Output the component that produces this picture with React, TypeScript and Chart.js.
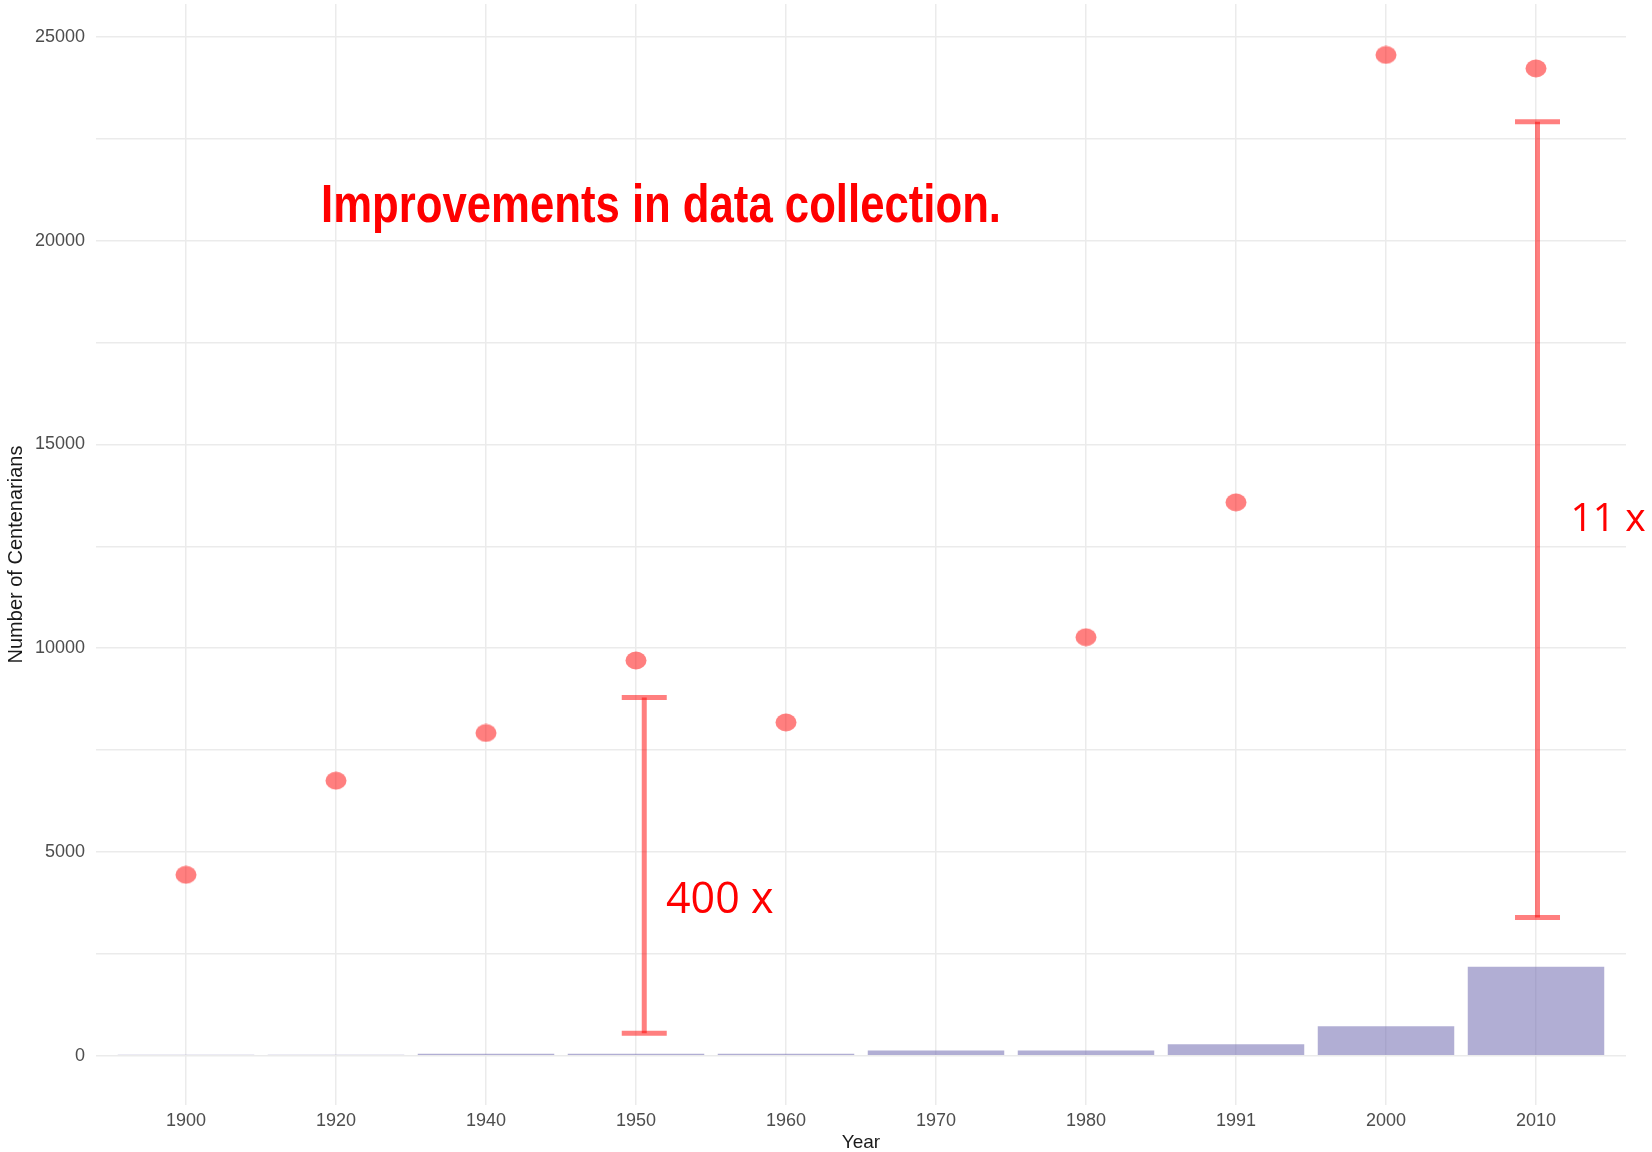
import React, { useEffect, useRef } from 'react';
import { Chart, registerables } from 'chart.js';

Chart.register(...registerables);

// ---- data ----
const years = ['1900', '1920', '1940', '1950', '1960', '1970', '1980', '1991', '2000', '2010'];
const barValues = [25, 25, 50, 45, 45, 130, 130, 280, 720, 2180];
const pointValues: (number | null)[] = [4440, 6750, 7920, 9700, 8180, null, 10270, 13580, 24560, 24230];
const yTickValues = [0, 2500, 5000, 7500, 10000, 12500, 15000, 17500, 20000, 22500, 25000];
const yMin = -1210;
const yMax = 25810;
const xMin = -0.6;
const xMax = 9.6;

// annotation values (in data units)
const errorBarX = [3.055, 9.01];
const errorBarLow = [550, 3390];
const errorBarHigh = [8790, 22920];
const errorCapHalf = 0.15;
const errorLabels = ['400 x', '11 x'];
const errorLabelX = [3.2, 9.23];
const errorLabelY = [3500, 12880];
const errorLabelSize = [43, 39];
const headline = 'Improvements in data collection.';
const headlineX = 0.9;
const headlineY = 20460;

function makeEllipse(): HTMLCanvasElement {
  const c = document.createElement('canvas');
  c.width = 22;
  c.height = 19;
  const g = c.getContext('2d')!;
  g.fillStyle = 'rgba(255,0,0,0.5)';
  g.beginPath();
  g.ellipse(11, 9.5, 10.5, 9, 0, 0, Math.PI * 2);
  g.fill();
  return c;
}

const annotationPlugin = {
  id: 'annot',
  afterDatasetsDraw(chart: any) {
    const ctx = chart.ctx as CanvasRenderingContext2D;
    const xs = chart.scales.x;
    const ys = chart.scales.y;
    ctx.save();
    ctx.strokeStyle = 'rgba(255,0,0,0.5)';
    ctx.lineWidth = 5;
    ctx.lineCap = 'butt';
    for (let i = 0; i < errorBarX.length; i++) {
      const x = xs.getPixelForValue(errorBarX[i]);
      const xl = xs.getPixelForValue(errorBarX[i] - errorCapHalf);
      const xr = xs.getPixelForValue(errorBarX[i] + errorCapHalf);
      const yh = ys.getPixelForValue(errorBarHigh[i]);
      const yl = ys.getPixelForValue(errorBarLow[i]);
      ctx.beginPath();
      ctx.moveTo(x, yh);
      ctx.lineTo(x, yl);
      ctx.stroke();
      ctx.beginPath();
      ctx.moveTo(xl, yh);
      ctx.lineTo(xr, yh);
      ctx.stroke();
      ctx.beginPath();
      ctx.moveTo(xl, yl);
      ctx.lineTo(xr, yl);
      ctx.stroke();
    }
    ctx.fillStyle = '#FF0000';
    ctx.textBaseline = 'alphabetic';
    ctx.textAlign = 'left';
    for (let i = 0; i < errorLabels.length; i++) {
      ctx.font = `${errorLabelSize[i]}px "Open Sans", "Noto Sans", sans-serif`;
      ctx.fillText(errorLabels[i], xs.getPixelForValue(errorLabelX[i]), ys.getPixelForValue(errorLabelY[i]));
    }
    // headline
    ctx.font = 'bold 54px "Liberation Sans Narrow", "Liberation Sans", Arial, sans-serif';
    const w = ctx.measureText(headline).width;
    const target = 680;
    ctx.translate(xs.getPixelForValue(headlineX), ys.getPixelForValue(headlineY));
    ctx.scale(target / w, 1);
    ctx.fillText(headline, 0, 0);
    ctx.restore();
  },
};

const zeroPad = (s: any) => {
  s.paddingTop = 0;
  s.paddingBottom = 0;
  s.paddingLeft = 0;
  s.paddingRight = 0;
};

export default function App() {
  const ref = useRef<HTMLCanvasElement>(null);
  useEffect(() => {
    const ellipse = makeEllipse();
    Chart.defaults.font.family = '"Liberation Sans", Arial, sans-serif';
    const chart = new Chart(ref.current!, {
      type: 'bar',
      data: {
        datasets: [
          {
            type: 'scatter',
            data: pointValues
              .map((v, i) => (v === null ? null : { x: i, y: v }))
              .filter((p) => p !== null) as any,
            pointStyle: ellipse as any,
            pointRadius: 10,
            pointHoverRadius: 10,
            backgroundColor: 'rgba(255,0,0,0.5)',
            borderWidth: 0,
            order: 0,
          } as any,
          {
            type: 'bar',
            data: barValues.map((v, i) => ({ x: i, y: v })) as any,
            backgroundColor: 'rgba(117,112,179,0.57)',
            borderWidth: 0,
            barPercentage: 0.91,
            categoryPercentage: 1,
            order: 1,
          } as any,
        ],
      },
      options: {
        animation: false,
        responsive: false,
        devicePixelRatio: 1,
        layout: { autoPadding: false, padding: { left: 0, right: 26, top: 4, bottom: 0 } },
        plugins: {
          legend: { display: false },
          tooltip: { enabled: false },
        },
        events: [],
        scales: {
          x: {
            type: 'linear',
            min: xMin,
            max: xMax,
            offset: false,
            afterFit: (s: any) => {
              s.height = 47;
              zeroPad(s);
            },
            afterBuildTicks: (axis: any) => {
              axis.ticks = years.map((_, i) => ({ value: i }));
            },
            grid: { color: '#EBEBEB', lineWidth: 1.5, drawTicks: false, offset: false },
            border: { display: false },
            ticks: {
              callback: (v: any) => years[Math.round(Number(v))] ?? '',
              color: '#4D4D4D',
              font: { size: 18 },
              padding: 5,
              maxRotation: 0,
              autoSkip: false,
            },
            title: {
              display: true,
              text: 'Year',
              color: '#1A1A1A',
              font: { size: 19, lineHeight: 1 },
              padding: { top: 0, bottom: 0 },
            },
          },
          y: {
            type: 'linear',
            min: yMin,
            max: yMax,
            afterFit: (s: any) => {
              s.width = 96;
              zeroPad(s);
            },
            afterBuildTicks: (axis: any) => {
              axis.ticks = yTickValues.map((v) => ({ value: v }));
            },
            grid: { color: '#EBEBEB', lineWidth: 1.5, drawTicks: false },
            border: { display: false },
            ticks: {
              callback: (v: any) => (Number(v) % 5000 === 0 ? String(v) : ''),
              color: '#4D4D4D',
              font: { size: 18 },
              padding: 11,
              autoSkip: false,
            },
            title: {
              display: true,
              text: 'Number of Centenarians',
              color: '#1A1A1A',
              font: { size: 20 },
              padding: { top: 4, bottom: 0 },
            },
          },
        },
      } as any,
      plugins: [annotationPlugin],
    });
    return () => chart.destroy();
  }, []);
  return (
    <div style={{ position: 'absolute', left: 0, top: 0, width: 1652, height: 1152, background: '#ffffff' }}>
      <canvas ref={ref} width={1652} height={1152} style={{ display: 'block', width: 1652, height: 1152 }} />
    </div>
  );
}
